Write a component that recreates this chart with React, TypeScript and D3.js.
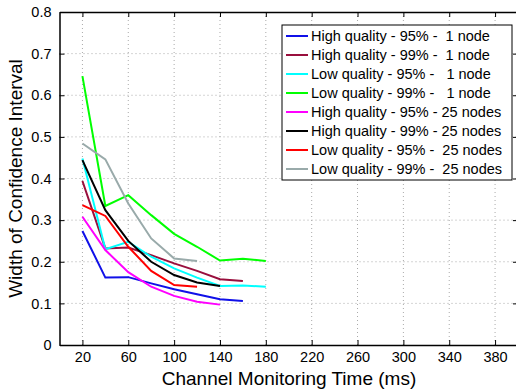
import * as d3 from "d3";
import { useEffect, useRef } from "react";

const times = [20, 40, 60, 80, 100, 120, 140, 160, 180];

const seriesNames = [
  "High quality - 95% -  1 node",
  "High quality - 99% -  1 node",
  "Low quality - 95% -   1 node",
  "Low quality - 99% -   1 node",
  "High quality - 95% - 25 nodes",
  "High quality - 99% - 25 nodes",
  "Low quality - 95% -  25 nodes",
  "Low quality - 99% -  25 nodes",
];

const seriesColors = [
  "#1010e8",
  "#990f3d",
  "#00ffff",
  "#00ff00",
  "#ff00ff",
  "#000000",
  "#ff0000",
  "#99aaaa",
];

const hq95one = [0.274, 0.162, 0.163, 0.148, 0.134, 0.122, 0.11, 0.106];
const hq99one = [0.394, 0.232, 0.234, 0.216, 0.196, 0.178, 0.158, 0.154];
const lq95one = [0.448, 0.23, 0.248, 0.212, 0.184, 0.162, 0.142, 0.143, 0.14];
const lq99one = [0.646, 0.334, 0.36, 0.312, 0.267, 0.236, 0.203, 0.207, 0.202];
const hq95many = [0.308, 0.228, 0.175, 0.14, 0.118, 0.104, 0.097];
const hq99many = [0.444, 0.324, 0.25, 0.2, 0.168, 0.15, 0.142];
const lq95many = [0.336, 0.31, 0.236, 0.178, 0.144, 0.14];
const lq99many = [0.484, 0.446, 0.34, 0.256, 0.208, 0.202];

const seriesValues = [
  hq95one,
  hq99one,
  lq95one,
  lq99one,
  hq95many,
  hq99many,
  lq95many,
  lq99many,
];

const xTicks = [20, 60, 100, 140, 180, 220, 260, 300, 340, 380];
const yTicks = [0, 0.1, 0.2, 0.3, 0.4, 0.5, 0.6, 0.7, 0.8];

const App = () => {
  const svgRef = useRef<SVGSVGElement | null>(null);

  useEffect(() => {
    const width = 516;
    const height = 389;
    const font = "Liberation Sans, Arial, sans-serif";

    const svg = d3.select(svgRef.current);
    svg.selectAll("*").remove();
    svg.attr("width", width).attr("height", height);

    const x = d3.scaleLinear().domain([0, 400]).range([59.5, 518]);
    const y = d3.scaleLinear().domain([0, 0.8]).range([345, 12]);

    // grid
    const grid = svg.append("g");
    grid
      .selectAll("line.gx")
      .data(xTicks)
      .join("line")
      .attr("x1", (d) => x(d))
      .attr("x2", (d) => x(d))
      .attr("y1", y(0))
      .attr("y2", y(0.8))
      .attr("stroke", "#aaa")
      .attr("stroke-dasharray", "1,3");
    grid
      .selectAll("line.gy")
      .data(yTicks.slice(1, -1))
      .join("line")
      .attr("x1", x(0))
      .attr("x2", x(400))
      .attr("y1", (d) => y(d))
      .attr("y2", (d) => y(d))
      .attr("stroke", "#aaa")
      .attr("stroke-dasharray", "1,3");

    // axes
    const bottom = svg
      .append("g")
      .attr("transform", `translate(0,${y(0)})`)
      .call(
        d3
          .axisBottom(x)
          .tickValues(xTicks)
          .tickSizeInner(-5)
          .tickSizeOuter(0)
          .tickPadding(7)
      );
    const top = svg
      .append("g")
      .attr("transform", `translate(0,${y(0.8)})`)
      .call(d3.axisTop(x).tickValues(xTicks).tickSizeInner(-5).tickSizeOuter(0));
    top.selectAll("text").remove();
    const left = svg
      .append("g")
      .attr("transform", `translate(${x(0)},0)`)
      .call(
        d3
          .axisLeft(y)
          .tickValues(yTicks)
          .tickFormat((d) => (+d === 0 ? "0" : d3.format(".1f")(+d)))
          .tickSizeInner(-5)
          .tickSizeOuter(0)
          .tickPadding(8)
      );
    const right = svg
      .append("g")
      .attr("transform", `translate(${x(400)},0)`)
      .call(d3.axisRight(y).tickValues(yTicks).tickSizeInner(-5).tickSizeOuter(0));
    right.selectAll("text").remove();

    [bottom, top, left, right].forEach((g) => {
      g.selectAll(".domain").attr("stroke", "#000").attr("stroke-width", 1.5);
      g.selectAll(".tick line").attr("stroke", "#000");
      g.selectAll("text")
        .attr("font-family", font)
        .attr("font-size", 14.5)
        .attr("fill", "#000");
    });

    // series
    const line = d3
      .line<number>()
      .x((_, i) => x(times[i]))
      .y((d) => y(d));

    svg
      .append("g")
      .selectAll("path")
      .data(seriesValues)
      .join("path")
      .attr("d", (d) => line(d))
      .attr("fill", "none")
      .attr("stroke", (_, i) => seriesColors[i])
      .attr("stroke-width", 2);

    // legend
    const lg = svg.append("g").attr("transform", "translate(282,25)");
    lg.append("rect")
      .attr("width", 230)
      .attr("height", 155)
      .attr("fill", "#fff")
      .attr("stroke", "#000");
    const items = lg
      .selectAll("g")
      .data(seriesNames)
      .join("g")
      .attr("transform", (_, i) => `translate(0,${11 + i * 19})`);
    items
      .append("line")
      .attr("x1", 4)
      .attr("x2", 26)
      .attr("stroke", (_, i) => seriesColors[i])
      .attr("stroke-width", 2);
    items
      .append("text")
      .attr("x", 29)
      .attr("dy", "0.35em")
      .attr("font-family", font)
      .attr("font-size", 14.5)
      .style("white-space", "pre")
      .text((d) => d);

    // axis titles
    svg
      .append("text")
      .attr("x", 289)
      .attr("y", 385)
      .attr("text-anchor", "middle")
      .attr("font-family", font)
      .attr("font-size", 19)
      .text("Channel Monitoring Time (ms)");
    svg
      .append("text")
      .attr("transform", `translate(22,${y(0.4)}) rotate(-90)`)
      .attr("text-anchor", "middle")
      .attr("font-family", font)
      .attr("font-size", 19)
      .text("Width of Confidence Interval");
  }, []);

  return (
    <svg
      ref={svgRef}
      style={{ position: "absolute", left: 0, top: 0, background: "#fff" }}
    />
  );
};

export default App;
